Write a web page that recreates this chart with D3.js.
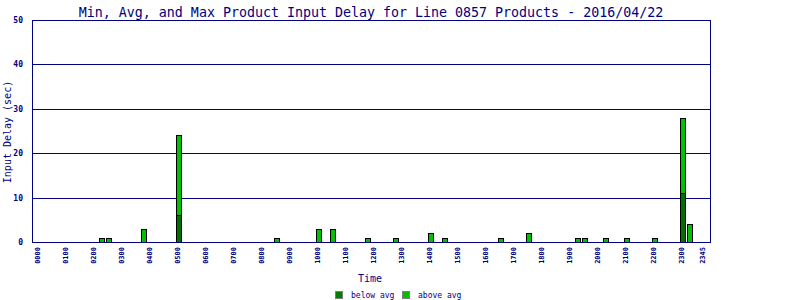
<!DOCTYPE html>
<html lang="en">
<head>
<meta charset="UTF-8">
<title>Product Input Delay</title>
<script src="https://cdn.jsdelivr.net/npm/d3@7"></script>
<style>
  body { margin: 0; background: #fff; }
  svg { display: block; }
</style>
</head>
<body>
<div id="container"></div>
<script>
// slots that have any delay, and their stacked parts
const times = ["0215","0230","0345","0500","0830","1000","1030","1145","1245","1400",
               "1430","1630","1730","1915","1930","2015","2100","2200","2300","2315"];
const belowAvg = [0,0,0,6,0,0,0,0,0,0,0,0,0,0,0,0,0,0,11,0];
const aboveAvg = [1,1,3,18,1,3,3,1,1,2,1,1,2,1,1,1,1,1,17,4];

const tickLabels = ["0000","0100","0200","0300","0400","0500","0600","0700","0800","0900",
                    "1000","1100","1200","1300","1400","1500","1600","1700","1800","1900",
                    "2000","2100","2200","2300","2345"];
const yTicks = [0, 10, 20, 30, 40, 50];

const width = 800;
const height = 300;
const navy = "#000080";
const darkGreen = "#007000";
const lightGreen = "#00c000";
const mono = "'DejaVu Sans Mono', monospace";

// quarter hour slots for the whole day
const slots = [];
for (let h = 0; h < 24; h++) {
  for (let m = 0; m < 60; m += 15) {
    slots.push(String(h).padStart(2, "0") + String(m).padStart(2, "0"));
  }
}

const plotLeft = 32, plotRight = 710, plotTop = 20, plotBottom = 242;

const x = d3.scaleBand()
    .domain(slots)
    .range([36.3, 36.3 + 96 * 7]);

const y = d3.scaleLinear()
    .domain([0, 50])
    .range([plotBottom, plotTop]);

const svg = d3.create("svg")
    .attr("width", width)
    .attr("height", height);

// title
svg.append("text")
    .attr("x", 371)
    .attr("y", 17)
    .attr("text-anchor", "middle")
    .attr("fill", navy)
    .style("font-family", mono)
    .style("font-size", "13.3px")
    .text("Min, Avg, and Max Product Input Delay for Line 0857 Products - 2016/04/22");

// grid lines
svg.append("g")
  .selectAll("line")
  .data(yTicks.filter(d => d > 0))
  .join("line")
    .attr("x1", plotLeft)
    .attr("x2", plotRight)
    .attr("y1", d => Math.round(y(d)) + 0.5)
    .attr("y2", d => Math.round(y(d)) + 0.5)
    .attr("stroke", navy);

// left and right border
svg.append("line")
    .attr("x1", plotLeft + 0.5).attr("x2", plotLeft + 0.5)
    .attr("y1", plotTop).attr("y2", plotBottom + 1)
    .attr("stroke", navy);
svg.append("line")
    .attr("x1", plotRight + 0.5).attr("x2", plotRight + 0.5)
    .attr("y1", plotTop).attr("y2", plotBottom + 1)
    .attr("stroke", navy);

// y tick labels
svg.append("g")
  .selectAll("text")
  .data(yTicks)
  .join("text")
    .attr("x", 23)
    .attr("y", d => y(d) + 3)
    .attr("text-anchor", "end")
    .attr("fill", navy)
    .style("font-family", mono)
    .style("font-weight", "bold")
    .style("font-size", "8px")
    .text(d => d);

// bars
const rows = times.map((t, i) => ({ t, below: belowAvg[i], above: aboveAvg[i] }));

svg.append("g")
  .selectAll("rect")
  .data(rows.filter(d => d.below > 0))
  .join("rect")
    .attr("x", d => Math.round(x(d.t)) + 0.5)
    .attr("y", d => Math.round(y(d.below)) + 0.5)
    .attr("width", 5)
    .attr("height", d => Math.round(y(0)) - Math.round(y(d.below)))
    .attr("fill", darkGreen)
    .attr("stroke", "#000");

svg.append("g")
  .selectAll("rect")
  .data(rows)
  .join("rect")
    .attr("x", d => Math.round(x(d.t)) + 0.5)
    .attr("y", d => Math.round(y(d.below + d.above)) + 0.5)
    .attr("width", 5)
    .attr("height", d => Math.round(y(d.below)) - Math.round(y(d.below + d.above)))
    .attr("fill", lightGreen)
    .attr("stroke", "#000");

// bottom axis line
svg.append("line")
    .attr("x1", plotLeft)
    .attr("x2", plotRight + 1)
    .attr("y1", plotBottom + 0.5)
    .attr("y2", plotBottom + 0.5)
    .attr("stroke", navy);

// x tick labels, rotated
svg.append("g")
  .selectAll("text")
  .data(tickLabels)
  .join("text")
    .attr("transform", d => `translate(${x(d) + 3.5},${247}) rotate(-90)`)
    .attr("text-anchor", "end")
    .attr("fill", navy)
    .style("font-family", mono)
    .style("font-weight", "bold")
    .style("font-size", "7px")
    .text(d => d);

// axis titles
svg.append("text")
    .attr("x", 370)
    .attr("y", 282)
    .attr("text-anchor", "middle")
    .attr("fill", navy)
    .style("font-family", mono)
    .style("font-size", "10px")
    .text("Time");

svg.append("text")
    .attr("transform", "translate(11,132) rotate(-90)")
    .attr("text-anchor", "middle")
    .attr("fill", navy)
    .style("font-family", mono)
    .style("font-size", "10px")
    .text("Input Delay (sec)");

// legend
const legend = [
  { label: "below avg", color: "#008000", x: 335 },
  { label: "above avg", color: lightGreen, x: 402 }
];
const lg = svg.append("g")
  .selectAll("g")
  .data(legend)
  .join("g")
    .attr("transform", d => `translate(${d.x},291)`);
lg.append("rect")
    .attr("x", 0.5).attr("y", 0.5)
    .attr("width", 7).attr("height", 7)
    .attr("fill", d => d.color)
    .attr("stroke", "#808080");
lg.append("text")
    .attr("x", 16)
    .attr("y", 7)
    .attr("fill", navy)
    .style("font-family", mono)
    .style("font-size", "8px")
    .text(d => d.label);

document.getElementById("container").append(svg.node());
</script>
</body>
</html>
